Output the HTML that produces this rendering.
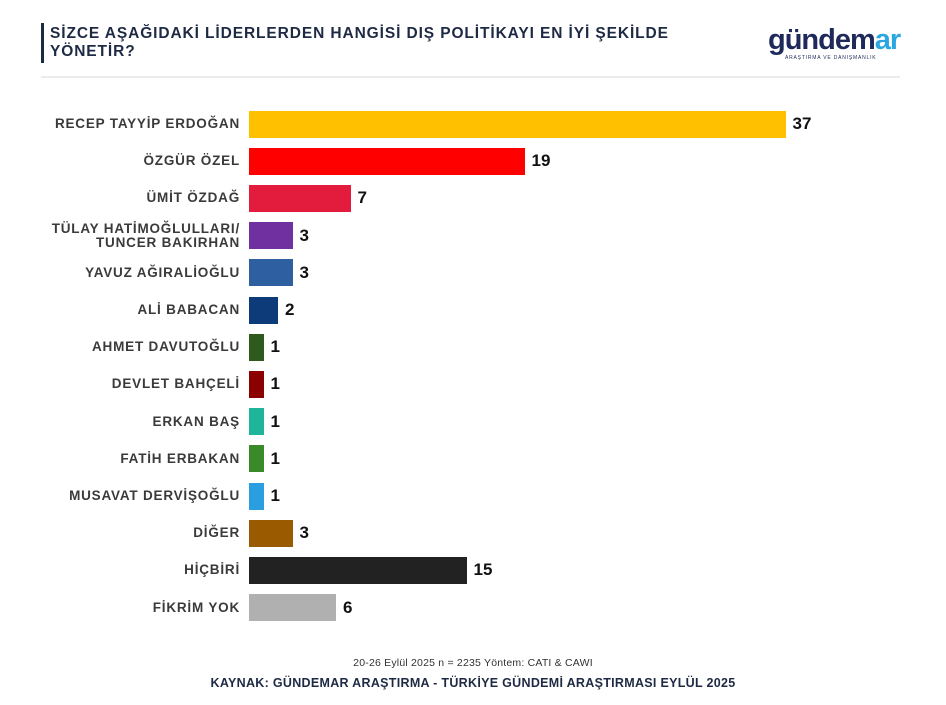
<!DOCTYPE html>
<html><head><meta charset="utf-8"><style>
body{margin:0;width:946px;height:705px;background:#fff;position:relative;overflow:hidden;font-family:"Liberation Sans",sans-serif}
.t{position:absolute;left:50px;top:25px;font-size:15.5px;font-weight:bold;color:#1e2a44;line-height:18px;letter-spacing:0.9px}
.bar{position:absolute;left:249px;height:27px}
.lab{position:absolute;right:706px;font-size:13.5px;font-weight:bold;color:#3a3a3a;text-align:right;line-height:14px;white-space:nowrap;letter-spacing:0.8px}
.val{position:absolute;font-size:17px;font-weight:bold;color:#111}
</style></head><body>
<div style="position:absolute;left:41px;top:23px;width:3px;height:40px;background:#1e2a44"></div>
<div class="t">SİZCE AŞAĞIDAKİ LİDERLERDEN HANGİSİ DIŞ POLİTİKAYI EN İYİ ŞEKİLDE<br>YÖNETİR?</div>
<div style="position:absolute;left:768px;top:24px;font-size:29px;font-weight:bold;color:#1e2a5a;letter-spacing:-1px;line-height:32px">gündem<span style="color:#2aa7e0">ar</span></div>
<div style="position:absolute;left:785px;top:55px;font-size:5px;color:#1e2a5a;letter-spacing:0.8px">ARAŞTIRMA VE DANIŞMANLIK</div>
<div style="position:absolute;left:41px;top:76px;width:859px;height:2px;background:#ececec"></div>
<div id="c"></div>
<div style="position:absolute;left:0;width:946px;top:657px;text-align:center;font-size:10.5px;color:#333;letter-spacing:0.2px">20-26 Eylül 2025 n = 2235 Yöntem: CATI &amp; CAWI</div>
<div style="position:absolute;left:0;width:946px;top:676px;text-align:center;font-size:12.5px;font-weight:bold;color:#1e2a44;letter-spacing:0.3px">KAYNAK: GÜNDEMAR ARAŞTIRMA - TÜRKİYE GÜNDEMİ ARAŞTIRMASI EYLÜL 2025</div>
<script>
var d=[["RECEP TAYYİP ERDOĞAN",37,"#ffc000"],["ÖZGÜR ÖZEL",19,"#ff0000"],["ÜMİT ÖZDAĞ",7,"#e31b3c"],["TÜLAY HATİMOĞLULLARI/<br>TUNCER BAKIRHAN",3,"#7030a0"],["YAVUZ AĞIRALİOĞLU",3,"#2e5fa0"],["ALİ BABACAN",2,"#0d3a78"],["AHMET DAVUTOĞLU",1,"#2f5a1e"],["DEVLET BAHÇELİ",1,"#8b0000"],["ERKAN BAŞ",1,"#1fb59a"],["FATİH ERBAKAN",1,"#3a8a2a"],["MUSAVAT DERVİŞOĞLU",1,"#2a9ee0"],["DİĞER",3,"#9a5a00"],["HİÇBİRİ",15,"#222222"],["FİKRİM YOK",6,"#b0b0b0"]];
var h="";d.forEach(function(r,i){var cy=124+i*37.2,w=r[1]*14.5;var two=r[0].indexOf("<br>")>0;
h+='<div class="bar" style="top:'+(cy-13.5)+'px;width:'+w+'px;background:'+r[2]+'"></div>';
h+='<div class="lab" style="top:'+(cy-(two?14:7))+'px">'+r[0]+'</div>';
h+='<div class="val" style="left:'+(249+w+7)+'px;top:'+(cy-10)+'px">'+r[1]+'</div>';});
document.getElementById("c").innerHTML=h;
</script>
</body></html>
